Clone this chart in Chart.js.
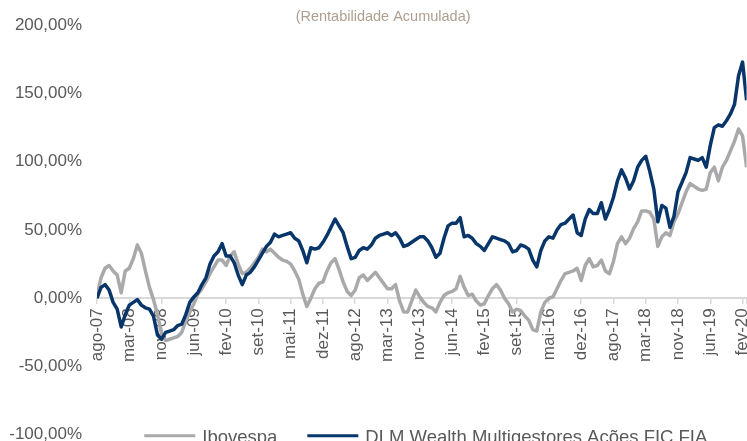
<!DOCTYPE html>
<html>
<head>
<meta charset="utf-8">
<script src="https://cdn.jsdelivr.net/npm/chart.js@4.4.1/dist/chart.umd.min.js"></script>
<style>
  html, body { margin: 0; padding: 0; background: #fff; overflow: hidden; }
  #wrap { width: 747px; height: 441px; overflow: hidden; }
  canvas { display: block; }
</style>
</head>
<body>
<div id="wrap"><canvas id="chart" width="768" height="445"></canvas></div>
<script>
// Rentabilidade acumulada (%), 8 points per axis label
const tickLabels = [
  'ago-07', 'mar-08', 'nov-08', 'jun-09', 'fev-10', 'set-10', 'mai-11',
  'dez-11', 'ago-12', 'mar-13', 'nov-13', 'jun-14', 'fev-15', 'set-15',
  'mai-16', 'dez-16', 'ago-17', 'mar-18', 'nov-18', 'jun-19', 'fev-20'
];
const pointsPerLabel = 8;

const ibovespa = [
  2, 15, 22, 24, 20, 17, 4, 20,
  22, 29, 39, 33, 20, 8, -1, -12,
  -26, -31, -30, -29, -28, -25, -17, -10,
  -4, 3, 7, 12, 18, 23, 28, 28,
  24, 31, 34, 25, 18, 19, 22, 26,
  30, 36, 34, 36, 33, 30, 28, 27,
  25, 20, 14, 3, -6, 0, 7, 11,
  12, 20, 26, 29, 21, 12, 5, 2,
  6, 15, 17, 13, 16, 19, 15, 11,
  7, 7, 10, -2, -10, -10, -2, 6,
  1, -3, -6, -7, -10, -3, 2, 4,
  5, 7, 16, 8, 2, 3, -2, -5,
  -4, 2, 7, 10, 6, 0, -4, -10,
  -8, -9, -13, -16, -23, -24, -10, -3,
  0, 1, 7, 13, 18, 19, 20, 22,
  13, 24, 29, 23, 24, 28, 20, 18,
  27, 40, 45, 40, 44, 51, 56, 64,
  64, 63, 58, 38, 45, 48, 46, 56,
  62, 70, 78, 84, 82, 80, 79, 80,
  92, 96, 86, 96, 101, 108, 115, 124,
  119, 96
];

const dlm = [
  0, 8, 10, 6, -3, -8, -21, -12,
  -5, -3, -1, -5, -7, -8, -13, -27,
  -30, -25, -24, -23, -20, -19, -12, -3,
  1, 4, 10, 15, 25, 31, 34, 40,
  31, 31, 26, 17, 10, 17, 19, 23,
  28, 33, 38, 41, 47, 45, 46, 47,
  48, 44, 42, 35, 26, 37, 36, 37,
  41, 46, 52, 58, 53, 48, 38, 29,
  30, 35, 37, 36, 39, 44, 46, 47,
  48, 46, 48, 44, 38, 39, 41, 43,
  45, 45, 42, 37, 30, 33, 44, 53,
  55, 55, 59, 45, 46, 44, 40, 38,
  35, 40, 45, 44, 43, 42, 40, 34,
  35, 39, 38, 36, 28, 23, 35, 42,
  45, 44, 50, 54, 55, 58, 61, 48,
  46, 58, 65, 62, 62, 70, 58, 65,
  74, 86, 94, 88, 80, 86, 96, 101,
  104, 93, 80, 56, 68, 66, 52, 60,
  78, 85, 92, 103, 102, 101, 103, 96,
  112, 125, 127, 126, 130, 135, 142, 163,
  173, 145
];

// frame of the plot area in the reference picture
const PLOT_LEFT = 97;
const PLOT_RIGHT = 747;
const PLOT_BOTTOM = 435;

const textColor = '#595959';
const axisFont = { family: '"Liberation Sans", Arial, sans-serif', size: 17 };

const pct = v => v.toFixed(2).replace('.', ',') + '%';

/** Legend drawn on the level of the chart area's bottom edge, as in the reference */
const bottomLegend = {
  id: 'bottomLegend',
  afterDraw(chart) {
    const { ctx, chartArea } = chart;
    const lineLen = 51, gap = 7, itemGap = 30;
    ctx.save();
    ctx.font = '18.5px "Liberation Sans", Arial, sans-serif';
    const items = chart.data.datasets.map(ds => ({ ds, w: ctx.measureText(ds.label).width }));
    const total = items.reduce((s, it) => s + lineLen + gap + it.w, 0) + itemGap * (items.length - 1);
    let x = (chartArea.left + chartArea.right) / 2 - total / 2 + 4;
    const y = chartArea.bottom + 1;
    items.forEach(it => {
      ctx.strokeStyle = it.ds.borderColor;
      ctx.lineWidth = 3;
      ctx.beginPath();
      ctx.moveTo(x, y);
      ctx.lineTo(x + lineLen, y);
      ctx.stroke();
      x += lineLen + gap;
      ctx.fillStyle = textColor;
      ctx.textBaseline = 'middle';
      ctx.fillText(it.ds.label, x, y + 2);
      x += it.w + itemGap;
    });
    ctx.restore();
  }
};

const canvas = document.getElementById('chart');
const chart = new Chart(canvas, {
  type: 'line',
  data: {
    labels: dlm.map((_, i) => i),
    datasets: [
      {
        label: 'Ibovespa',
        data: ibovespa,
        borderColor: '#a9a9ab',
        borderWidth: 3.5,
        order: 1
      },
      {
        label: 'DLM Wealth Multigestores Ações FIC FIA',
        data: dlm,
        borderColor: '#08356a',
        borderWidth: 3.5,
        order: 0
      }
    ]
  },
  options: {
    responsive: false,
    maintainAspectRatio: false,
    animation: false,
    layout: { padding: { left: 8, right: 0, top: 0, bottom: 0 } },
    elements: {
      point: { radius: 0 },
      line: { tension: 0, borderJoinStyle: 'round' }
    },
    plugins: {
      legend: { display: false },
      tooltip: { enabled: false },
      title: {
        display: true,
        text: '(Rentabilidade Acumulada)',
        color: '#ae9e90',
        font: { family: '"Liberation Sans", Arial, sans-serif', size: 14.5, weight: 'normal' },
        padding: { top: 4, bottom: 0 }
      }
    },
    scales: {
      x: {
        type: 'linear',
        position: { y: 0 },
        min: 0,
        max: dlm.length - 1,
        bounds: 'data',
        grid: { drawOnChartArea: false, drawTicks: true, tickLength: 5, color: '#d9d9d9', lineWidth: 1.5 },
        border: { display: true, color: '#d9d9d9', width: 2 },
        ticks: {
          stepSize: pointsPerLabel,
          includeBounds: false,
          autoSkip: false,
          minRotation: 90,
          maxRotation: 90,
          padding: 5,
          color: textColor,
          font: axisFont,
          callback: v => tickLabels[v / pointsPerLabel] || ''
        }
      },
      y: {
        min: -100,
        max: 200,
        grid: { display: false, drawTicks: false },
        border: { display: false },
        ticks: {
          stepSize: 50,
          padding: 15,
          color: textColor,
          font: axisFont,
          callback: v => pct(v)
        }
      }
    }
  },
  plugins: [bottomLegend]
});

// nudge the plot area onto the reference frame
const a = chart.chartArea;
chart.options.layout.padding.left += PLOT_LEFT - a.left;
chart.resize(Math.round(chart.width + PLOT_RIGHT - a.right), Math.round(chart.height + PLOT_BOTTOM - a.bottom));
chart.update();
</script>
</body>
</html>
